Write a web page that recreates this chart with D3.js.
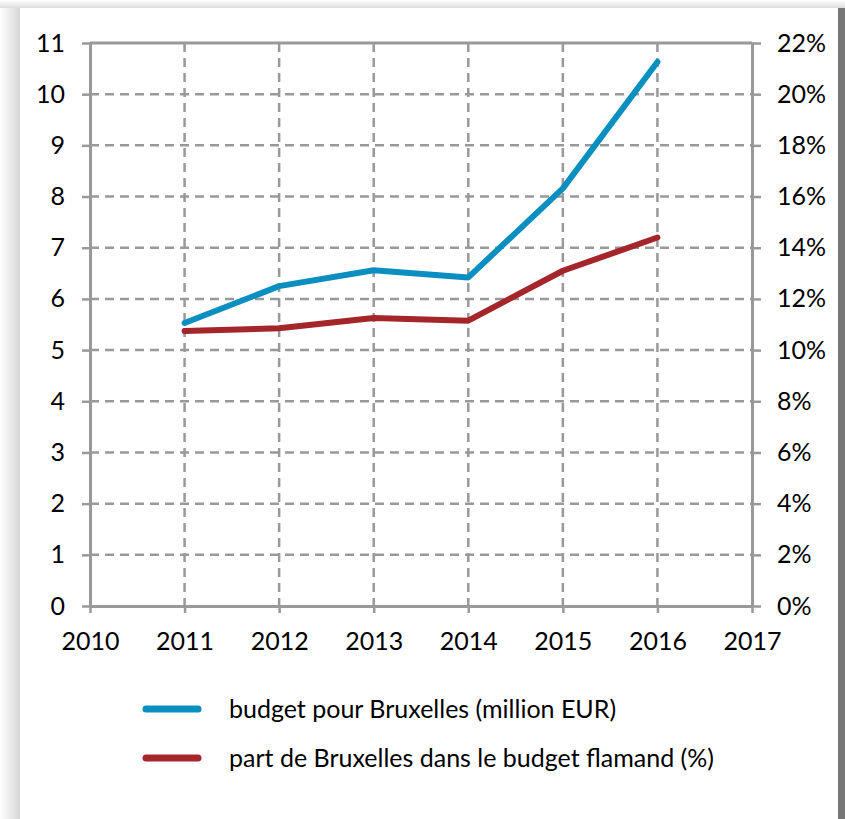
<!DOCTYPE html>
<html>
<head>
<meta charset="utf-8">
<script src="https://cdn.jsdelivr.net/npm/d3@7"></script>
<style>
  body { margin: 0; background: #fff; }
  svg { display: block; }
</style>
</head>
<body>
<div id="chart"></div>
<script>
const years = [2011, 2012, 2013, 2014, 2015, 2016];
const budget = [5.53, 6.25, 6.56, 6.42, 8.16, 10.63];
const share = [10.75, 10.85, 11.25, 11.15, 13.1, 14.4];
const leftTicks = [0, 1, 2, 3, 4, 5, 6, 7, 8, 9, 10, 11];
const rightTicks = [0, 2, 4, 6, 8, 10, 12, 14, 16, 18, 20, 22];
const xTicks = [2010, 2011, 2012, 2013, 2014, 2015, 2016, 2017];
const seriesNames = ["budget pour Bruxelles (million EUR)", "part de Bruxelles dans le budget flamand (%)"];
const colors = ["#0b8fc0", "#a4262a"];

const W = 845, H = 819;
const margin = { top: 43, right: 93, bottom: 213, left: 90 };
const width = W - margin.left - margin.right;
const height = H - margin.top - margin.bottom;
const font = "Lato, 'Open Sans', sans-serif";
const gridCol = "#999";

const svg = d3.select("#chart").append("svg")
    .attr("width", W)
    .attr("height", H);

// card shadow + background
const defs = svg.append("defs");
const lg = defs.append("linearGradient").attr("id", "lsh").attr("x1", 0).attr("x2", 1);
lg.append("stop").attr("offset", 0).attr("stop-color", "#fff");
lg.append("stop").attr("offset", 1).attr("stop-color", "#d6d6d6");
const tg = defs.append("linearGradient").attr("id", "tsh").attr("x1", 0).attr("x2", 0).attr("y1", 0).attr("y2", 1);
tg.append("stop").attr("offset", 0).attr("stop-color", "#fff");
tg.append("stop").attr("offset", 1).attr("stop-color", "#dcdcdc");
svg.append("rect").attr("width", W).attr("height", H).attr("fill", "#f4f4f4");
svg.append("rect").attr("x", 0).attr("y", 0).attr("width", 20).attr("height", H).attr("fill", "url(#lsh)");
svg.append("rect").attr("x", 0).attr("y", 0).attr("width", W).attr("height", 8).attr("fill", "url(#tsh)");
svg.append("rect").attr("x", 838).attr("y", 8).attr("width", 7).attr("height", H).attr("fill", "#777");
svg.append("rect").attr("x", 20).attr("y", 8).attr("width", 818).attr("height", H).attr("fill", "#fff");

const g = svg.append("g").attr("transform", `translate(${margin.left},${margin.top})`);

const x = d3.scaleLinear().domain([2010, 2017]).range([0, width]);
const yL = d3.scaleLinear().domain([0, 11]).range([height, 0]);
const yR = d3.scaleLinear().domain([0, 22]).range([height, 0]);

// gridlines
g.append("g").selectAll("line")
    .data(leftTicks.filter(d => d > 0 && d < 11))
    .join("line")
    .attr("x1", 0).attr("x2", width)
    .attr("y1", d => yL(d)).attr("y2", d => yL(d))
    .attr("stroke", gridCol).attr("stroke-width", 2.5)
    .attr("stroke-dasharray", "9,6");
g.append("g").selectAll("line")
    .data(xTicks.filter(d => d > 2010 && d < 2017))
    .join("line")
    .attr("x1", d => x(d)).attr("x2", d => x(d))
    .attr("y1", 0).attr("y2", height)
    .attr("stroke", gridCol).attr("stroke-width", 2.5)
    .attr("stroke-dasharray", "9,6");

// top border
g.append("line").attr("x1", 0).attr("x2", width).attr("y1", 0).attr("y2", 0)
    .attr("stroke", gridCol).attr("stroke-width", 3);

function styleAxis(sel) {
    sel.select(".domain").attr("stroke", gridCol).attr("stroke-width", 3);
    sel.selectAll(".tick line").attr("stroke", gridCol).attr("stroke-width", 2.5);
    sel.selectAll(".tick text").attr("fill", "#000").style("font-family", font).style("font-size", "25px");
}

g.append("g")
    .call(d3.axisLeft(yL).tickValues(leftTicks).tickSize(8).tickSizeOuter(0).tickPadding(17))
    .call(styleAxis);

g.append("g")
    .attr("transform", `translate(${width},0)`)
    .call(d3.axisRight(yR).tickValues(rightTicks).tickFormat(d => d + "%").tickSize(9).tickSizeOuter(0).tickPadding(16))
    .call(styleAxis);

g.append("g")
    .attr("transform", `translate(0,${height})`)
    .call(d3.axisBottom(x).tickValues(xTicks).tickFormat(d3.format("d")).tickSize(7).tickSizeOuter(0).tickPadding(19))
    .call(styleAxis);

// lines
const lineL = d3.line().x((d, i) => x(years[i])).y(d => yL(d));
const lineR = d3.line().x((d, i) => x(years[i])).y(d => yR(d));

g.append("path").datum(share)
    .attr("d", lineR)
    .attr("fill", "none").attr("stroke", colors[1]).attr("stroke-width", 6)
    .attr("stroke-linejoin", "round").attr("stroke-linecap", "round");
g.append("path").datum(budget)
    .attr("d", lineL)
    .attr("fill", "none").attr("stroke", colors[0]).attr("stroke-width", 6)
    .attr("stroke-linejoin", "round").attr("stroke-linecap", "round");

// legend
const legend = svg.append("g").attr("transform", "translate(143,709)");
seriesNames.forEach((name, i) => {
    const row = legend.append("g").attr("transform", `translate(0,${i * 49})`);
    row.append("line").attr("x1", 3).attr("x2", 55).attr("y1", 0).attr("y2", 0)
        .attr("stroke", colors[i]).attr("stroke-width", 7).attr("stroke-linecap", "round");
    row.append("text").attr("x", 86).attr("y", 9)
        .style("font-family", font).style("font-size", "25px")
        .text(name);
});
</script>
</body>
</html>
